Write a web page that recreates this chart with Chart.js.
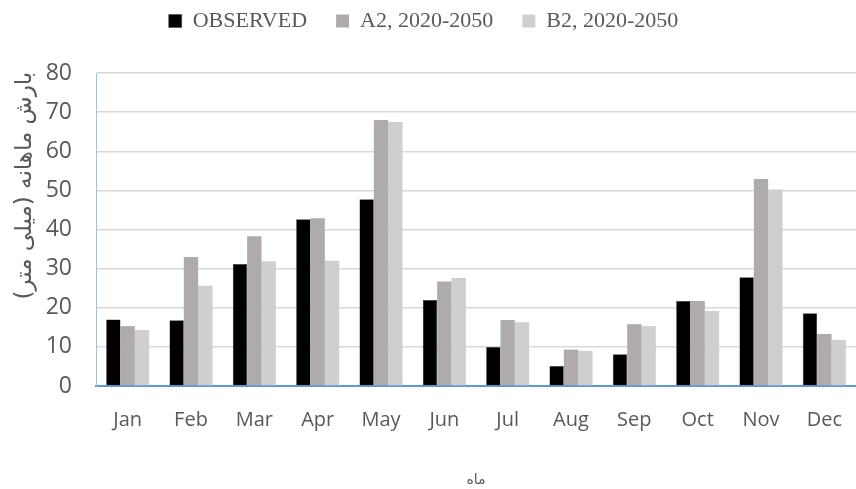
<!DOCTYPE html>
<html lang="fa">
<head>
<meta charset="UTF-8">
<title>Monthly precipitation</title>
<script src="https://cdn.jsdelivr.net/npm/chart.js"></script>
<style>
  html, body { margin: 0; padding: 0; background: #fff; }
  #wrap { width: 856px; height: 489px; }
</style>
</head>
<body>
<div id="wrap"><canvas id="rainChart"></canvas></div>
<script>
// data (mm)
const months = ['Jan', 'Feb', 'Mar', 'Apr', 'May', 'Jun', 'Jul', 'Aug', 'Sep', 'Oct', 'Nov', 'Dec'];
const observed = [17.0, 16.8, 31.2, 42.6, 47.7, 22.0, 10.0, 5.1, 8.1, 21.7, 27.8, 18.6];
const a2 = [15.3, 33.0, 38.3, 42.9, 68.0, 26.7, 16.9, 9.3, 15.8, 21.7, 52.9, 13.3];
const b2 = [14.3, 25.6, 31.9, 32.0, 67.5, 27.6, 16.3, 9.0, 15.3, 19.2, 50.2, 11.8];
const seriesNames = ['OBSERVED', 'A2, 2020-2050', 'B2, 2020-2050'];
const yTitle = 'بارش ماهانه (میلی متر)';
const xTitle = 'ماه';

// the y title sits above the middle of the plot in the original,
// so pad it with spaces at its lower end
const yTitlePadded = '\u00A0'.repeat(12) + yTitle;

// extra room under the legend, and nudge it a bit to the left
const legendTweak = {
    id: 'legendTweak',
    beforeInit(chart) {
        const fit = chart.legend.fit;
        chart.legend.fit = function () {
            fit.bind(chart.legend)();
            this.height += 31;
        };
    },
    afterLayout(chart) {
        chart.legend.left -= 10;
        chart.legend.right -= 10;
    }
};

const ctx = document.getElementById('rainChart').getContext('2d');
new Chart(ctx, {
    type: 'bar',
    data: {
        labels: months,
        datasets: [
            { label: seriesNames[0], data: observed, backgroundColor: '#000000', borderColor: '#3a3a3a', borderWidth: 0.5 },
            { label: seriesNames[1], data: a2, backgroundColor: '#AFABAB' },
            { label: seriesNames[2], data: b2, backgroundColor: '#D0CECE' }
        ]
    },
    plugins: [legendTweak],
    options: {
        responsive: true,
        maintainAspectRatio: false,
        animation: false,
        datasets: {
            bar: { categoryPercentage: 0.68, barPercentage: 1.0 }
        },
        // negative top so the wide legend padding doesn't push it down
        layout: { padding: { left: 11, right: 0, top: -19, bottom: 0 } },
        plugins: {
            legend: {
                position: 'top',
                labels: {
                    boxWidth: 13,
                    boxHeight: 13,
                    padding: 29,
                    color: '#595959',
                    font: { family: '"Liberation Serif", "Times New Roman", serif', size: 22 }
                }
            },
            tooltip: { enabled: false }
        },
        scales: {
            x: {
                grid: { display: false },
                border: { color: '#5B9BD5', width: 2 },
                afterFit(scale) { scale.height = 103; },
                ticks: {
                    color: '#595959',
                    padding: 14,
                    font: { family: '"Open Sans", sans-serif', size: 20 }
                },
                title: {
                    display: true,
                    text: xTitle,
                    color: '#595959',
                    padding: { top: 36, bottom: 0 },
                    font: { family: '"DejaVu Sans", sans-serif', size: 14 }
                }
            },
            y: {
                min: 0,
                max: 80,
                afterFit(scale) { scale.width = 85; },
                ticks: {
                    stepSize: 10,
                    color: '#595959',
                    padding: 24,
                    font: { family: '"Open Sans", sans-serif', size: 23 }
                },
                grid: { color: '#D9D9D9', lineWidth: 1.5, drawTicks: false },
                border: { color: '#9DC3E6', width: 1 },
                title: {
                    display: true,
                    text: yTitlePadded,
                    color: '#595959',
                    padding: { top: 0, bottom: 0 },
                    font: { family: '"DejaVu Sans", sans-serif', size: 23 }
                }
            }
        }
    }
});
</script>
</body>
</html>
